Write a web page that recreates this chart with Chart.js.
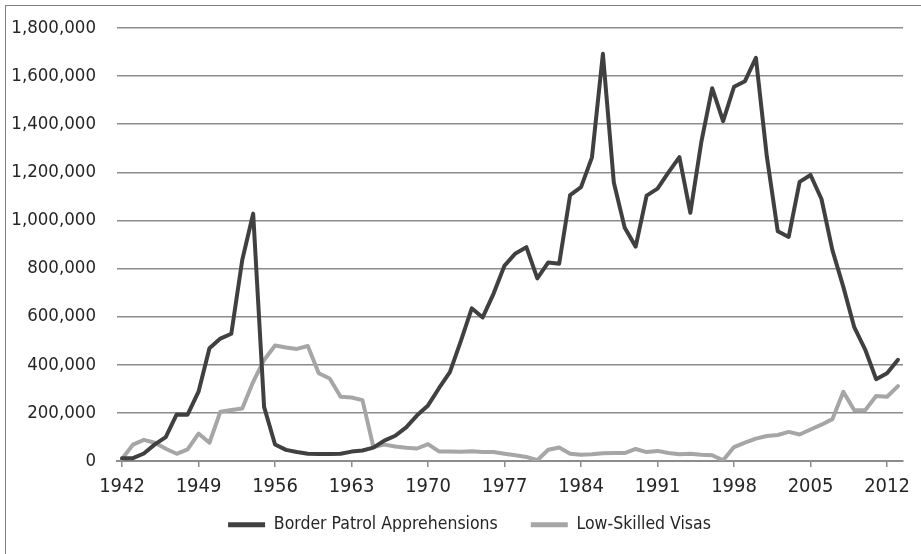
<!DOCTYPE html>
<html>
<head>
<meta charset="utf-8">
<script src="https://cdn.jsdelivr.net/npm/chart.js@4.4.1/dist/chart.umd.min.js"></script>
<style>
  html, body { margin: 0; padding: 0; background: #ffffff; }
  #wrap { position: relative; width: 921px; height: 554px; }
</style>
</head>
<body>
<div id="wrap"><canvas id="c" width="921" height="554"></canvas></div>
<script>
const years = [];
for (let y = 1942; y <= 2013; y++) years.push(y);

const xTickYears = [1942, 1949, 1956, 1963, 1970, 1977, 1984, 1991, 1998, 2005, 2012];
const yTickValues = [0, 200000, 400000, 600000, 800000, 1000000, 1200000, 1400000, 1600000, 1800000];

const apprehensions = [
  11715, 11920, 31174, 69164, 99591, 193657, 192779, 288253, 468339, 509040,
  528815, 835311, 1028246, 225186, 68420, 46225, 37242, 30196, 28966, 29384,
  30272, 39124, 43844, 55349, 85000, 105000, 140000, 190000, 231116, 302517,
  369495, 498123, 634777, 596796, 696039, 812541, 862837, 888729, 759420, 825290,
  819919, 1105670, 1138566, 1262435, 1692544, 1158030, 969214, 891147, 1103353, 1132033,
  1199560, 1263490, 1031668, 1324202, 1549876, 1412953, 1555776, 1579010, 1676438, 1266214,
  955310, 931557, 1160395, 1189075, 1089092, 876704, 723825, 556041, 463382, 340252,
  364768, 420789
];

const lowSkilledVisas = [
  8000, 68000, 88000, 76000, 51000, 30000, 48000, 114000, 76000, 205000,
  212000, 218000, 329000, 420000, 480000, 472000, 466000, 478000, 365000, 343000,
  267000, 264000, 253000, 58000, 68000, 60000, 55000, 52000, 70000, 40000,
  40000, 38000, 41000, 37000, 37000, 30000, 24000, 17000, 3000, 47000,
  56000, 30000, 26000, 28000, 32000, 33000, 33000, 50000, 37000, 42000,
  33000, 28000, 30000, 26000, 24000, 3000, 58000, 76000, 93000, 104000,
  108000, 121000, 110000, 131000, 151000, 174000, 288000, 211000, 211000, 270000,
  267000, 311000
];

const seriesNames = ['Border Patrol Apprehensions', 'Low-Skilled Visas'];

const FONT = "'Liberation Sans Narrow', 'DejaVu Sans Condensed', 'Arial Narrow', sans-serif";
const TEXT = '#262626';
const GRID = '#8c8c8c';

const toPoints = arr => years.map((yr, i) => ({ x: yr, y: arr[i] }));

const framePlugin = {
  id: 'frame',
  afterLayout(chart) {
    const lg = chart.legend;
    if (lg) {
      const h = lg.height;
      lg.left = 36;
      lg.top = 483;
      lg.bottom = 483 + h;
    }
  },
  beforeDraw(chart) {
    const ctx = chart.ctx;
    ctx.save();
    ctx.fillStyle = '#ffffff';
    ctx.fillRect(0, 0, chart.width, chart.height);
    ctx.strokeStyle = '#7f7f7f';
    ctx.lineWidth = 1;
    ctx.strokeRect(5.5, 5.5, 940, 580);
    ctx.restore();
  }
};

new Chart(document.getElementById('c'), {
  type: 'line',
  data: {
    datasets: [
      {
        label: seriesNames[0],
        data: toPoints(apprehensions),
        borderColor: '#404040',
        backgroundColor: '#404040',
        borderWidth: 4,
        pointRadius: 0,
        tension: 0,
        borderJoinStyle: 'round',
        borderCapStyle: 'round'
      },
      {
        label: seriesNames[1],
        data: toPoints(lowSkilledVisas),
        borderColor: '#a6a6a6',
        backgroundColor: '#a6a6a6',
        borderWidth: 4,
        pointRadius: 0,
        tension: 0,
        borderJoinStyle: 'round',
        borderCapStyle: 'round'
      }
    ]
  },
  options: {
    responsive: false,
    animation: false,
    layout: { padding: { top: 28, left: 0, right: 18, bottom: 8 } },
    plugins: {
      tooltip: { enabled: false },
      legend: {
        position: 'bottom',
        align: 'center',
        maxHeight: 49,
        labels: {
          font: { family: FONT, size: 17.5 },
          color: TEXT,
          boxWidth: 37,
          boxHeight: 5,
          padding: 33,
          generateLabels: chart => chart.data.datasets.map((d, i) => ({
            text: d.label,
            fillStyle: d.borderColor,
            strokeStyle: d.borderColor,
            lineWidth: 0,
            hidden: false,
            datasetIndex: i,
            fontColor: TEXT
          }))
        }
      }
    },
    scales: {
      x: {
        type: 'linear',
        min: 1941.54,
        max: 2013.46,
        afterBuildTicks: scale => { scale.ticks = xTickYears.map(v => ({ value: v })); },
        afterFit: scale => { scale.height = 36; },
        ticks: {
          autoSkip: false,
          maxRotation: 0,
          padding: 8,
          color: TEXT,
          font: { family: FONT, size: 20 },
          callback: v => String(v)
        },
        grid: {
          drawOnChartArea: false,
          drawTicks: true,
          tickLength: 6,
          color: GRID,
          lineWidth: 1.5
        },
        border: { display: true, color: GRID, width: 2 }
      },
      y: {
        min: 0,
        max: 1800000,
        afterBuildTicks: scale => { scale.ticks = yTickValues.map(v => ({ value: v })); },
        afterFit: scale => {
          scale.width = 117;
          scale.paddingTop = 0;
          scale.paddingBottom = 0;
        },
        ticks: {
          padding: 21,
          color: TEXT,
          font: { family: FONT, size: 18.5 },
          callback: v => Number(v).toLocaleString('en-US')
        },
        grid: {
          drawTicks: false,
          color: GRID,
          lineWidth: 1.5
        },
        border: { display: false }
      }
    }
  },
  plugins: [framePlugin]
});
</script>
</body>
</html>
